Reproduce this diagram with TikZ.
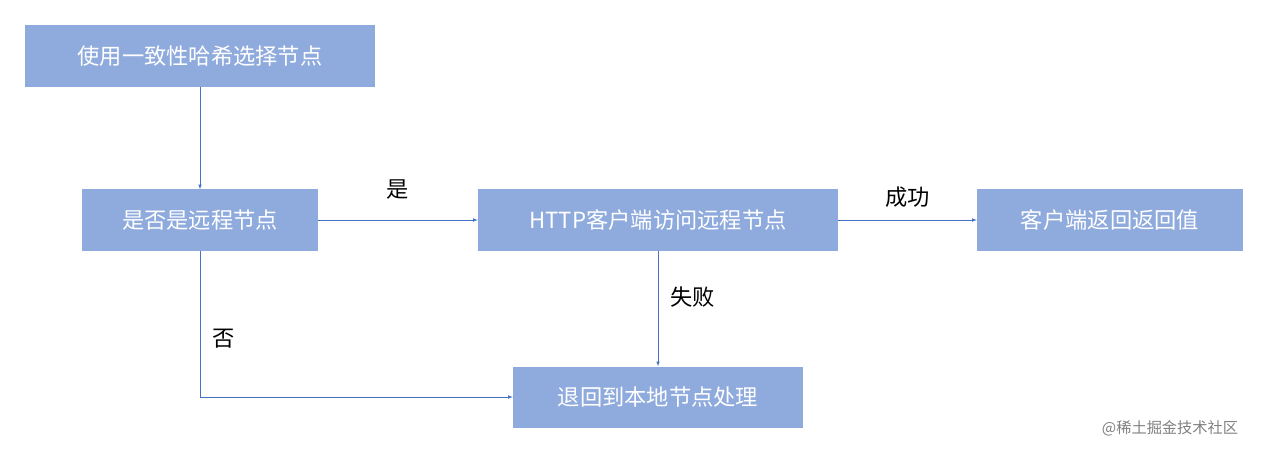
\documentclass[tikz,border=0pt]{standalone}
\usepackage{fontspec}
\setmainfont{Noto Sans CJK SC}
\colorlet{boxblue}{blue!30!cyan!40!white}
\definecolor{boxfill}{HTML}{8FAADC}
\definecolor{linkblue}{HTML}{4472C4}
\begin{document}
\begin{tikzpicture}[x=0.03cm,y=-0.03cm,
  box/.style={fill=boxfill,text=white,inner sep=0,minimum height=1.83cm,font=\fontsize{19}{22}\selectfont},
  link/.style={draw=linkblue,-latex,thin},
  tag/.style={font=\fontsize{19}{22}\selectfont}]
\useasboundingbox (0,0) rectangle (1268,453);
\node[box,minimum width=10.5cm] (hash) at (200,56) {使用一致性哈希选择节点};
\node[box,minimum width=7.08cm] (remote) at (200,220) {是否是远程节点};
\node[box,minimum width=10.8cm] (http) at (658,220) {HTTP客户端访问远程节点};
\node[box,minimum width=7.98cm] (ret) at (1110,220) {客户端返回返回值};
\node[box,minimum width=8.7cm] (local) at (658,397) {退回到本地节点处理};
\coordinate (corner) at (remote.south |- local.west);
% connectors
\draw[link] (hash.south -| remote.north) -- (remote.north);
\draw[link] (remote) -- node[tag,above=0.5cm] {是} (http);
\draw[link] (http) -- node[tag,above=0.25cm] {成功} (ret);
\draw[link] (http) -- node[tag,right=0.25cm,pos=0.4] {失败} (local);
\draw[link] (remote.south) -- node[tag,right=0.25cm,pos=0.6] {否} (corner) -- (local.west);
\node[text=gray,font=\fontsize{13}{15}\selectfont] (mark) at (1170,428) {@稀土掘金技术社区};
\end{tikzpicture}
\end{document}
